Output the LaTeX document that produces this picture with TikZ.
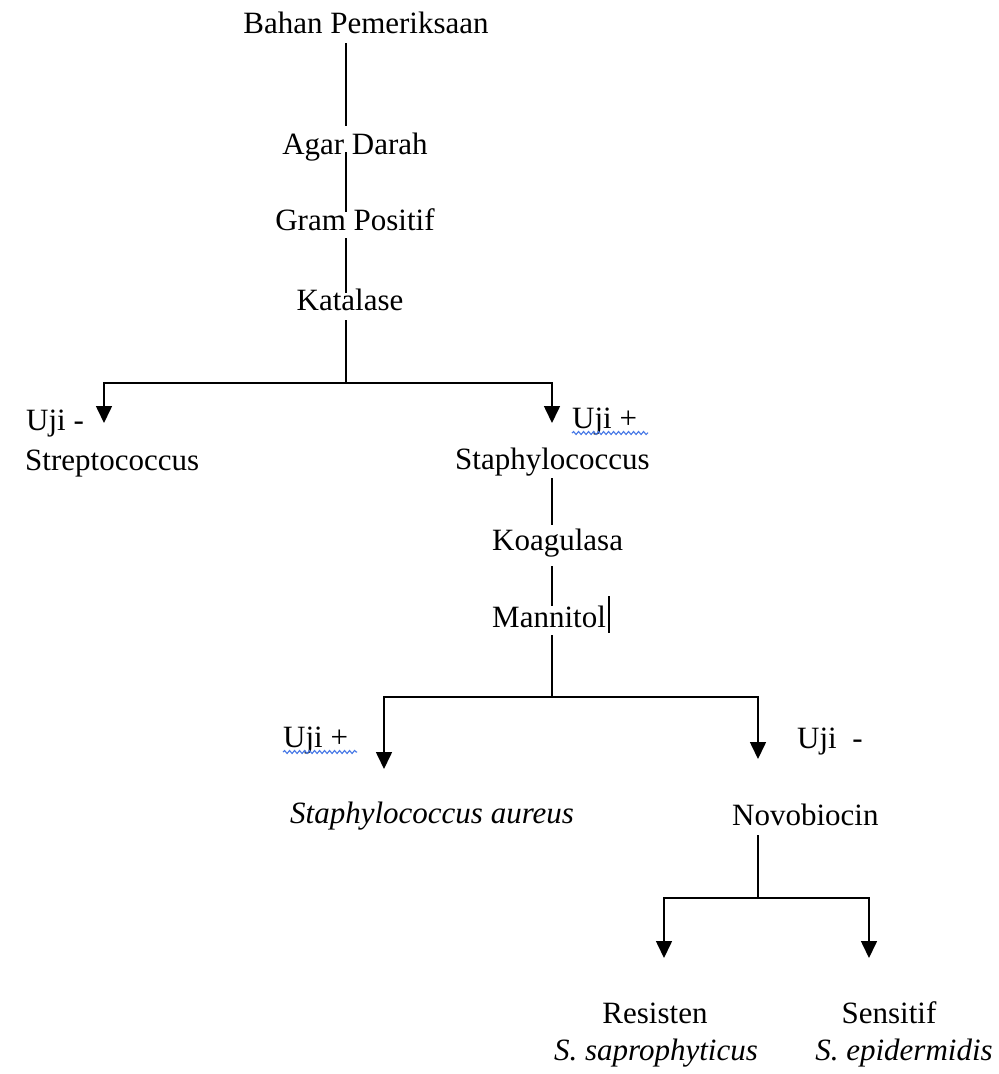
\documentclass[tikz,border=0pt]{standalone}
\usepackage{fontspec}
\setmainfont{Liberation Serif}
\usetikzlibrary{arrows.meta,decorations.pathmorphing}
\begin{document}
\begin{tikzpicture}[x=1pt,y=-1pt,
  lbl/.style={inner sep=0pt, font=\fontsize{31}{37}\selectfont, anchor=base},
  lblw/.style={lbl, anchor=base west},
  conn/.style={line width=1.6pt, black},
  arr/.style={conn, -{Triangle[width=16pt,length=17pt]}},
  spell/.style={draw={rgb,255:red,70;green,120;blue,230}, line width=1.1pt, decorate,
    decoration={snake, amplitude=1.5pt, segment length=5pt}},
  caret/.style={line width=1.2pt, black}
]
\useasboundingbox[fill=white] (0,0) rectangle (999,1074);

% ---- text nodes ----
\node[lbl] (bahan) at (366,33) {Bahan Pemeriksaan};
\node[lbl] (agar) at (355,154) {Agar Darah};
\node[lbl] (gram) at (355,230) {Gram Positif};
\node[lbl] (kat) at (350,310) {Katalase};

\node[lblw] (ujim1) at (26,430) {Uji -};
\node[lblw] (strep) at (25,470) {Streptococcus};
\node[lblw] (ujip1) at (572,428) {Uji +};
\node[lblw] (staph) at (455,469) {Staphylococcus};

\node[lblw] (koag) at (492,550) {Koagulasa};
\node[lblw] (mann) at (492,627) {Mannitol};

\node[lblw] (ujip2) at (283,747) {Uji +};
\node[lblw] (aureus) at (290,823) {\itshape Staphylococcus aureus};
\node[lblw] (ujim2) at (797,748) {Uji \ -};
\node[lblw] (novo) at (732,825) {Novobiocin};

\node[lbl] (res) at (655,1023) {Resisten};
\node[lbl] (sapro) at (656,1060) {\itshape S. saprophyticus};
\node[lbl] (sens) at (889,1023) {Sensitif};
\node[lbl] (epi) at (904,1060) {\itshape S. epidermidis};

% ---- coordinates ----
\coordinate (a1) at (346,43);  \coordinate (a2) at (346,126);
\coordinate (a3) at (346,152); \coordinate (a4) at (346,212);
\coordinate (a5) at (346,238); \coordinate (a6) at (346,293);
\coordinate (a7) at (346,320); \coordinate (j1) at (346,383);
\coordinate (t1l) at (104,423); \coordinate (t1r) at (552,423);

\coordinate (b1) at (552,478); \coordinate (b2) at (552,525);
\coordinate (b3) at (552,566); \coordinate (b4) at (552,606);
\coordinate (b5) at (552,635); \coordinate (j2) at (552,697);
\coordinate (t2l) at (384,769); \coordinate (t2r) at (758,759);

\coordinate (c1) at (758,835); \coordinate (j3) at (758,898);
\coordinate (t3l) at (664,958); \coordinate (t3r) at (869,958);

% ---- connectors ----
\draw[conn] (a1) -- (a2);
\draw[conn] (a3) -- (a4);
\draw[conn] (a5) -- (a6);
\draw[conn] (a7) -- (j1);
\draw[arr] (j1) -| (t1l);
\draw[arr] (j1) -| (t1r);

\draw[conn] (b1) -- (b2);
\draw[conn] (b3) -- (b4);
\draw[conn] (b5) -- (j2);
\draw[arr] (j2) -| (t2l);
\draw[arr] (j2) -| (t2r);

\draw[conn] (c1) -- (j3);
\draw[arr] (j3) -| (t3l);
\draw[arr] (j3) -| (t3r);

% ---- spell-check underlines and caret ----
\draw[spell] (ujip1.base west) ++(0,5) -- ++(76,0);
\draw[spell] (ujip2.base west) ++(0,5) -- ++(74,0);
\draw[caret] (mann.base east) ++(3,-31) -- ++(0,37);
\end{tikzpicture}
\end{document}
